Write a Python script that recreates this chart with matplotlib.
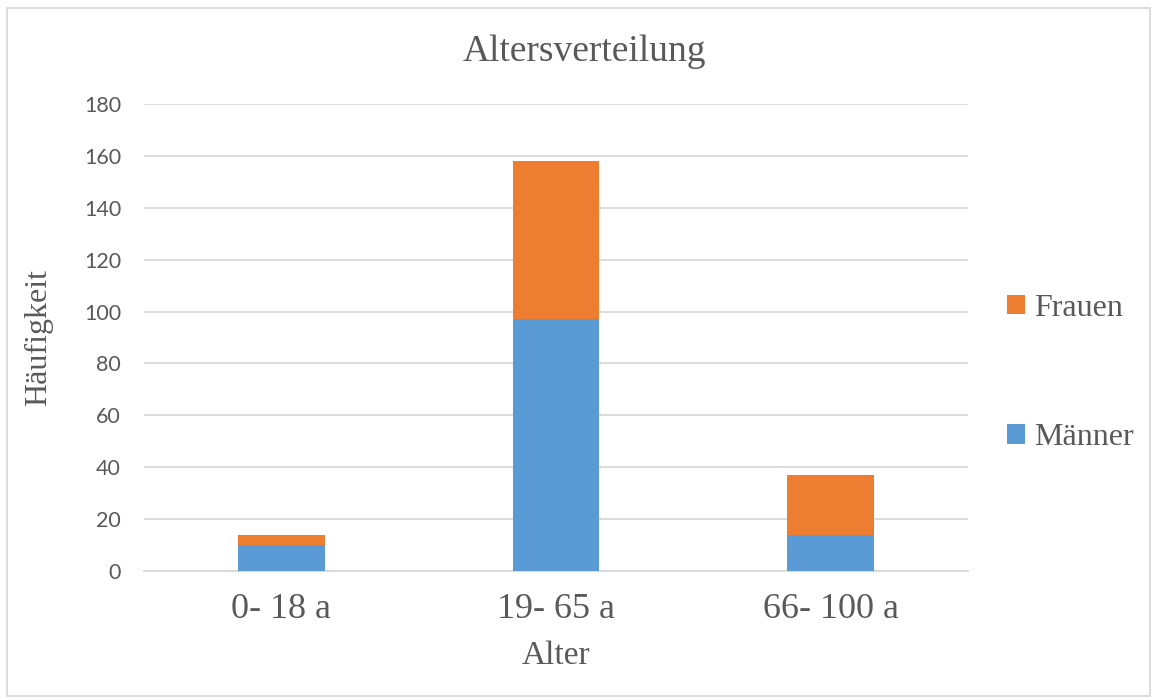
import numpy as np
import matplotlib.pyplot as plt
from matplotlib.patches import Rectangle

# Data
categories = ['0- 18 a', '19- 65 a', '66- 100 a']
maenner = [10, 97, 14]
frauen = [4, 61, 23]
y_ticks = [0, 20, 40, 60, 80, 100, 120, 140, 160, 180]

blue = '#5B9BD5'
orange = '#ED7D31'
grey = '#595959'
serif = ['Liberation Serif', 'DejaVu Serif']

fig = plt.figure(figsize=(11.52, 6.99), dpi=100)
ax = fig.add_axes([144 / 1152, 1 - 571 / 699, (968 - 144) / 1152, (571 - 104) / 699])

x = np.arange(len(categories))
ax.bar(x, maenner, width=0.315, color=blue, label='Männer', zorder=3)
ax.bar(x, frauen, width=0.315, bottom=maenner, color=orange, label='Frauen', zorder=3)

ax.set_xlim(-0.5, 2.5)
ax.set_ylim(0, 180)
ax.set_yticks(y_ticks)
ax.set_xticks(x)
ax.set_xticklabels(categories, fontsize=26, family=serif, color=grey)
for lbl in ax.get_yticklabels():
    lbl.set_fontfamily(['Lato', 'DejaVu Sans'])
ax.tick_params(axis='y', labelsize=15.5, colors=grey, length=0, pad=16.5)
ax.tick_params(axis='x', length=0, pad=16)
ax.grid(axis='y', color='#D9D9D9', linewidth=1.3, zorder=0)
for s in ['top', 'right', 'left']:
    ax.spines[s].set_visible(False)
ax.spines['bottom'].set_color('#D9D9D9')
ax.spines['bottom'].set_linewidth(1.3)

ax.set_xlabel('Alter', fontsize=24, family=serif, color=grey, labelpad=10)
ax.set_ylabel('Häufigkeit', fontsize=23, family=serif, color=grey, labelpad=22)
fig.text(584 / 1152, 1 - 52 / 699, 'Altersverteilung', fontsize=27, family=serif,
         color=grey, ha='center', va='center')

handles, labels = ax.get_legend_handles_labels()
leg = fig.legend(handles[::-1], labels[::-1], loc='center left',
                 bbox_to_anchor=(1007 / 1152, 1 - 373 / 699), frameon=False,
                 prop={'family': serif, 'size': 23}, labelspacing=3.15,
                 borderpad=0, borderaxespad=0,
                 handlelength=0.55, handleheight=0.55, handletextpad=0.3)
for t in leg.get_texts():
    t.set_color(grey)

# outer chart border
fig.patches.append(Rectangle((7 / 1152, 1 - 696 / 699), 1143 / 1152, 688 / 699,
                             transform=fig.transFigure, fill=False,
                             edgecolor='#D9D9D9', linewidth=1.3))

fig.savefig('out.png', dpi=100, facecolor='white')
